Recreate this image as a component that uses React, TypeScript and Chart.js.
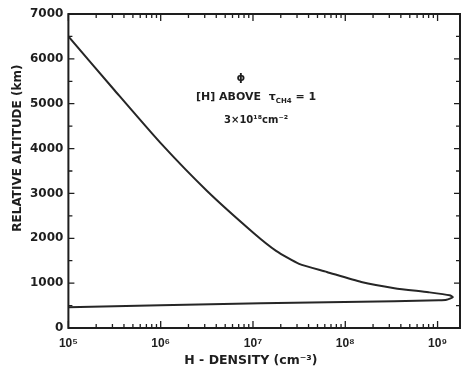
import React, { useEffect, useRef } from "react";
import { Chart, registerables } from "chart.js";

Chart.register(...registerables);

// H-density (cm^-3) along the curve, upper branch then lower branch
const density = [
  1e5, 3.16e5, 1e6, 3.16e6, 1e7, 1.78e7, 3.16e7, 6.31e7, 1.49e8,
  3.41e8, 7.98e8, 1.35e9, 1.46e9, 1.25e9, 1.03e9, 3.41e8, 1.22e7, 1e6, 1e5,
];
// Relative altitude (km)
const altitude = [
  6500, 5300, 4120, 3060, 2130, 1720, 1430, 1250, 1025,
  888, 797, 730, 685, 629, 618, 596, 551, 507, 462,
];
const xTickValues = [1e5, 1e6, 1e7, 1e8, 1e9];
const xTickLabels = ["10⁵", "10⁶", "10⁷", "10⁸", "10⁹"];
const yMajorTicks = [0, 1000, 2000, 3000, 4000, 5000, 6000, 7000];
const yMinorTicks = [500, 1500, 2500, 3500, 4500, 5500, 6500];
const xTitle = "H - DENSITY (cm⁻³)";
const yTitle = "RELATIVE ALTITUDE (km)";
const noteSymbol = "ϕ";
const noteLine1 = "[H] ABOVE  τ";
const noteSub = "CH4";
const noteEq = " = 1";
const noteLine2 = "3×10¹⁸cm⁻²";

const INK = "#1e1e1e";
const DV = "'DejaVu Sans', sans-serif";
const LS = "'Liberation Sans', Arial, sans-serif";

const framePlugin = {
  id: "frame",
  afterDraw(chart: any) {
    const { ctx, chartArea: a, scales } = chart;
    const xs = scales.x;
    const ys = scales.y;
    ctx.save();
    ctx.strokeStyle = INK;
    ctx.lineWidth = 2;
    ctx.strokeRect(a.left, a.top, a.right - a.left, a.bottom - a.top);
    ctx.lineWidth = 1.3;
    ctx.beginPath();
    const yTick = (v: number, len: number) => {
      const p = ys.getPixelForValue(v);
      ctx.moveTo(a.left, p);
      ctx.lineTo(a.left + len, p);
      ctx.moveTo(a.right, p);
      ctx.lineTo(a.right - len, p);
    };
    yMajorTicks.forEach((v) => yTick(v, 6));
    yMinorTicks.forEach((v) => yTick(v, 4));
    const xTick = (v: number, len: number) => {
      const p = xs.getPixelForValue(v);
      if (p < a.left || p > a.right) return;
      ctx.moveTo(p, a.bottom);
      ctx.lineTo(p, a.bottom - len);
      ctx.moveTo(p, a.top);
      ctx.lineTo(p, a.top + len);
    };
    xTickValues.forEach((d) => {
      xTick(d, 7);
      for (let m = 2; m <= 9; m++) xTick(d * m, 4);
    });
    ctx.stroke();

    ctx.fillStyle = INK;
    ctx.textBaseline = "middle";
    ctx.textAlign = "center";

    // axis titles
    ctx.font = `bold 12.5px ${DV}`;
    ctx.fillText(xTitle, xs.getPixelForValue(9.5e6), a.bottom + 33);
    ctx.save();
    ctx.translate(a.left - 51, ys.getPixelForValue(4010));
    ctx.rotate(-Math.PI / 2);
    ctx.font = `bold 12px ${DV}`;
    ctx.fillText(yTitle, 0, 0);
    ctx.restore();

    // annotation
    const cx = xs.getPixelForValue(1.08e7);
    ctx.font = `bold 11px ${DV}`;
    ctx.fillText(noteSymbol, xs.getPixelForValue(7.4e6), ys.getPixelForValue(5572));
    const l1y = ys.getPixelForValue(5148);
    ctx.font = `bold 11px ${DV}`;
    const w1 = ctx.measureText(noteLine1).width;
    ctx.font = `bold 7px ${DV}`;
    const ws = ctx.measureText(noteSub).width;
    ctx.font = `bold 11px ${DV}`;
    const we = ctx.measureText(noteEq).width;
    const x0 = cx - (w1 + ws + we) / 2;
    ctx.textAlign = "left";
    ctx.fillText(noteLine1, x0, l1y);
    ctx.font = `bold 7px ${DV}`;
    ctx.fillText(noteSub, x0 + w1, l1y + 4);
    ctx.font = `bold 11px ${DV}`;
    ctx.fillText(noteEq, x0 + w1 + ws, l1y);
    ctx.textAlign = "center";
    ctx.font = `bold 10px ${DV}`;
    ctx.fillText(noteLine2, cx, ys.getPixelForValue(4635));
    ctx.restore();
  },
};

export default function App() {
  const ref = useRef<HTMLCanvasElement>(null);
  useEffect(() => {
    if (!ref.current) return;
    const chart = new Chart(ref.current, {
      type: "scatter",
      data: {
        datasets: [
          {
            data: density.map((d, i) => ({ x: d, y: altitude[i] })),
            showLine: true,
            borderColor: "#262626",
            borderWidth: 2,
            pointRadius: 0,
            tension: 0.2,
          },
        ],
      },
      options: {
        animation: false,
        responsive: false,
        layout: { padding: { left: 25, right: 1, top: 14, bottom: 8.6 } },
        plugins: { legend: { display: false }, tooltip: { enabled: false } },
        scales: {
          x: {
            type: "logarithmic",
            min: 1e5,
            max: 1.75e9,
            grid: { display: false, drawTicks: false },
            border: { display: false },
            afterBuildTicks: (s: any) => {
              s.ticks = xTickValues.map((v) => ({ value: v }));
            },
            ticks: {
              autoSkip: false,
              maxRotation: 0,
              padding: 8,
              color: INK,
              font: { family: LS, weight: "bold", size: 12 },
              callback: (v: any) => {
                const i = xTickValues.indexOf(Number(v));
                return i >= 0 ? xTickLabels[i] : "";
              },
            },
          },
          y: {
            min: 0,
            max: 7000,
            grid: { display: false, drawTicks: false },
            border: { display: false },
            afterBuildTicks: (s: any) => {
              s.ticks = yMajorTicks.map((v) => ({ value: v }));
            },
            ticks: {
              padding: 5,
              color: INK,
              font: { family: DV, weight: "bold", size: 12 },
              callback: (v: any) => String(v),
            },
          },
        },
      },
      plugins: [framePlugin],
    });
    return () => chart.destroy();
  }, []);
  return (
    <div style={{ position: "absolute", left: 0, top: 0, width: 461, height: 367, background: "#fff" }}>
      <canvas ref={ref} width={461} height={367} style={{ display: "block" }} />
    </div>
  );
}
